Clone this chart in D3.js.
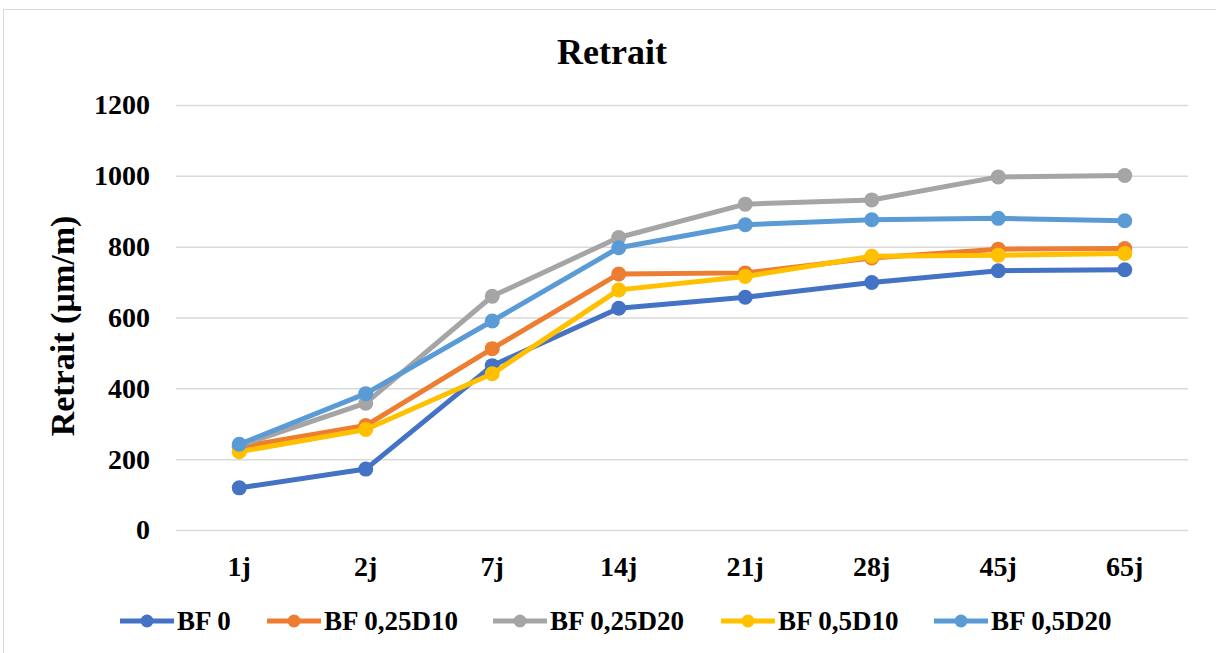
<!DOCTYPE html>
<html>
<head>
<meta charset="utf-8">
<script src="https://cdn.jsdelivr.net/npm/d3@7"></script>
<style>
  body { margin: 0; background: #fff; }
  text { font-family: "Liberation Serif", "Times New Roman", serif; font-weight: bold; fill: #000; }
</style>
</head>
<body>
<div id="chart"></div>
<script>
// Data
const categories = ["1j", "2j", "7j", "14j", "21j", "28j", "45j", "65j"];
const seriesNames = ["BF 0", "BF 0,25D10", "BF 0,25D20", "BF 0,5D10", "BF 0,5D20"];
const bf0      = [119, 172, 464, 626, 657, 699, 732, 735];
const bf025d10 = [234, 295, 512, 723, 726, 768, 793, 795];
const bf025d20 = [238, 358, 660, 826, 920, 932, 997, 1001];
const bf05d10  = [221, 284, 441, 678, 716, 773, 776, 781];
const bf05d20  = [242, 385, 590, 797, 862, 876, 880, 873];
const yTicks = [0, 200, 400, 600, 800, 1000, 1200];
const colors = ["#4472C4", "#ED7D31", "#A5A5A5", "#FFC000", "#5B9BD5"];

const seriesValues = [bf0, bf025d10, bf025d20, bf05d10, bf05d20];

const svgW = 1216, svgH = 653;
const margin = { top: 105, right: 28, bottom: 123, left: 176 };
const width = svgW - margin.left - margin.right;
const height = svgH - margin.top - margin.bottom;

const svg = d3.select("#chart").append("svg")
  .attr("width", svgW)
  .attr("height", svgH);

// chart frame
svg.append("rect")
  .attr("x", 3.5).attr("y", 9.5)
  .attr("width", svgW - 2).attr("height", svgH - 2)
  .attr("fill", "none")
  .attr("stroke", "#d9d9d9");

const g = svg.append("g")
  .attr("transform", `translate(${margin.left},${margin.top})`);

const x = d3.scaleBand().domain(categories).range([0, width]);
const y = d3.scaleLinear().domain([0, 1200]).range([height, 0]);

// grid lines
g.append("g")
  .call(d3.axisLeft(y).tickValues(yTicks).tickSize(-width).tickFormat(""))
  .call(a => a.select(".domain").remove())
  .call(a => a.selectAll("line").attr("stroke", "#d9d9d9").attr("stroke-width", 1.5));

// y tick labels
g.append("g")
  .call(d3.axisLeft(y).tickValues(yTicks).tickSize(0).tickPadding(26).tickFormat(d3.format("d")))
  .call(a => a.select(".domain").remove())
  .call(a => a.selectAll("text").style("font-size", "28px").attr("font-family", null));

// x tick labels
g.append("g")
  .attr("transform", `translate(0,${height})`)
  .call(d3.axisBottom(x).tickSize(0).tickPadding(26))
  .call(a => a.select(".domain").remove())
  .call(a => a.selectAll("text").style("font-size", "28px").attr("font-family", null));

// lines + markers
const line = d3.line()
  .x((d, i) => x(categories[i]) + x.bandwidth() / 2)
  .y(d => y(d));

seriesValues.forEach((vals, s) => {
  g.append("path")
    .datum(vals)
    .attr("fill", "none")
    .attr("stroke", colors[s])
    .attr("stroke-width", 5)
    .attr("stroke-linejoin", "round")
    .attr("d", line);
  g.append("g").selectAll("circle")
    .data(vals)
    .enter()
    .append("circle")
    .attr("cx", (d, i) => x(categories[i]) + x.bandwidth() / 2)
    .attr("cy", d => y(d))
    .attr("r", 7.5)
    .attr("fill", colors[s]);
});

// title
svg.append("text")
  .attr("x", 612).attr("y", 64)
  .attr("text-anchor", "middle")
  .style("font-size", "36px")
  .text("Retrait");

// y axis title
svg.append("text")
  .attr("transform", "translate(74,326) rotate(-90)")
  .attr("text-anchor", "middle")
  .style("font-size", "34px")
  .text("Retrait (µm/m)");

// legend
const legendX = [120, 267, 493, 721, 934];
const legend = svg.append("g").attr("transform", "translate(0,621)");
seriesNames.forEach((name, s) => {
  const item = legend.append("g").attr("transform", `translate(${legendX[s]},0)`);
  item.append("line")
    .attr("x1", 0).attr("x2", 54)
    .attr("stroke", colors[s]).attr("stroke-width", 5);
  item.append("circle")
    .attr("cx", 27).attr("r", 6.5)
    .attr("fill", colors[s]);
  item.append("text")
    .attr("x", 57).attr("y", 9)
    .style("font-size", "27px")
    .text(name);
});
</script>
</body>
</html>
